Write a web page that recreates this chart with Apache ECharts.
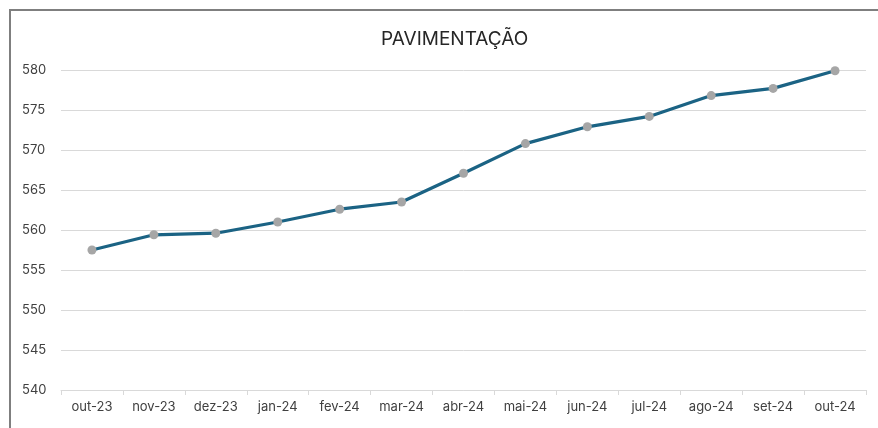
<!DOCTYPE html>
<html>
<head>
<meta charset="utf-8">
<script src="https://cdn.jsdelivr.net/npm/echarts@6/dist/echarts.min.js"></script>
<style>
  html, body { margin: 0; padding: 0; background: #fff; overflow: hidden; }
  #frame { position: absolute; left: 9px; top: 9px; width: 900px; height: 500px; border: 2px solid #7f7f7f; }
  #chart { position: absolute; left: 0; top: 0; width: 878px; height: 428px; }
</style>
</head>
<body>
<div id="frame"></div>
<div id="chart"></div>
<script>
var meses = ['out-23', 'nov-23', 'dez-23', 'jan-24', 'fev-24', 'mar-24', 'abr-24',
    'mai-24', 'jun-24', 'jul-24', 'ago-24', 'set-24', 'out-24'];
var valores = [557.5, 559.4, 559.6, 561.0, 562.6, 563.5, 567.1,
    570.8, 572.9, 574.2, 576.8, 577.7, 579.9];

var fonte = 'Inter, "Open Sans", sans-serif';

var grafico = echarts.init(document.getElementById('chart'));
grafico.setOption({
    animation: false,
    title: {
        text: 'PAVIMENTAÇÃO',
        left: 376,
        top: 25,
        textStyle: {fontFamily: fonte, fontSize: 19, fontWeight: 'normal', color: '#262626'}
    },
    grid: {left: 61, right: 12, top: 70, bottom: 38},
    xAxis: {
        type: 'category',
        data: meses,
        boundaryGap: true,
        axisLine: {lineStyle: {color: '#d9d9d9', width: 1}},
        axisTick: {show: true, length: 5, lineStyle: {color: '#d9d9d9'}},
        axisLabel: {fontFamily: fonte, fontSize: 13, color: '#404040', margin: 11}
    },
    yAxis: {
        type: 'value',
        min: 540,
        max: 580,
        interval: 5,
        axisLine: {show: false},
        axisTick: {show: false},
        axisLabel: {fontFamily: fonte, fontSize: 13, color: '#404040', align: 'left', margin: 39},
        splitLine: {lineStyle: {color: '#d9d9d9', width: 1}}
    },
    series: [{
        type: 'line',
        data: valores,
        symbol: 'circle',
        symbolSize: 9,
        lineStyle: {color: '#1b6384', width: 3.2},
        itemStyle: {color: '#a6a6a6'}
    }]
});
</script>
</body>
</html>
